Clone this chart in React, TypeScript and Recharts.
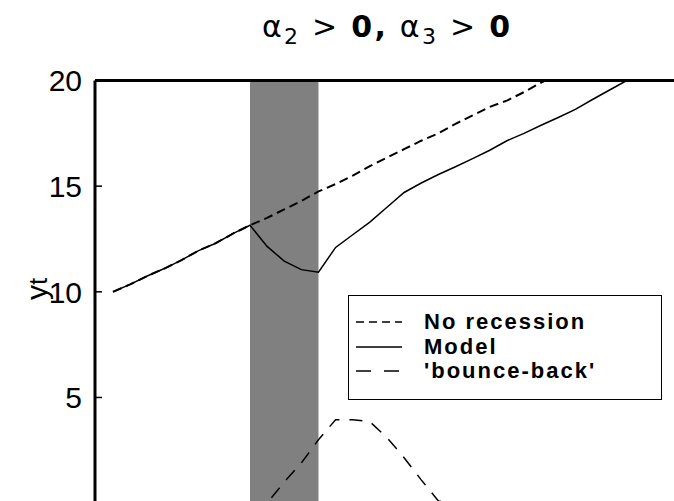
import React from 'react';
import { LineChart, Line, XAxis, YAxis, ReferenceArea, ReferenceLine, Legend, Customized } from 'recharts';

// quarters since start of sample
const quarters = [0, 1, 2, 3, 4, 5, 6, 7, 8, 9, 10, 11, 12, 13, 14, 15, 16, 17, 18, 19, 20, 21, 22, 23, 24, 25, 26, 27, 28, 29, 30, 31];
const noRecession = [10.0, 10.35, 10.75, 11.1, 11.5, 11.95, 12.3, 12.75, 13.15, 13.5, 13.9, 14.3, 14.75, 15.1, 15.5, 15.95, 16.35, 16.75, 17.15, 17.5, 17.95, 18.35, 18.75, 19.05, 19.45, 19.9, 20.3, null, null, null, null, null];
const model = [10.0, 10.35, 10.75, 11.1, 11.5, 11.95, 12.3, 12.75, 13.15, 12.15, 11.45, 11.05, 10.93, 12.1, 12.7, 13.3, 14.0, 14.7, 15.15, 15.55, 15.92, 16.3, 16.7, 17.15, 17.5, 17.88, 18.25, 18.63, 19.1, 19.55, 20.0, 20.4];
const bounceBack = [0, 0, 0, 0, 0, 0, 0, 0, 0, 0, 1.0, 1.9, 3.0, 3.95, 3.95, 3.85, 3.1, 2.15, 1.1, 0.1, 0, 0, 0, 0, 0, 0, 0, 0, 0, 0, 0, 0];
const recession = [8, 12];
const yTicks = [5, 10, 15, 20];
const seriesNames = ['No recession', 'Model', "'bounce-back'"];

const data = quarters.map((t, i) => ({ t, noRec: noRecession[i], model: model[i], bounce: bounceBack[i] }));

const legendDash: Record<string, string | undefined> = {
  'No recession': '8 5',
  Model: undefined,
  "'bounce-back'": '15 13',
};

const YTick = (props: any) => {
  const { x, y, payload } = props;
  return (
    <g>
      <line x1={x} x2={x + 7} y1={y} y2={y} stroke="#000" strokeWidth={1.5} />
      <text x={x - 13} y={y} dy="0.36em" textAnchor="end" fontSize={30} fontFamily="Liberation Sans, Arial, sans-serif" fill="#000">
        {payload.value}
      </text>
    </g>
  );
};

// legend drawn in the original series order
const LegendBox = () => (
  <div style={{ width: 314, height: 105, border: '1.5px solid #000', boxSizing: 'border-box', background: '#fff', paddingTop: 14 }}>
    {seriesNames.map((name) => (
      <div key={name} style={{ display: 'flex', alignItems: 'center', height: 24.5 }}>
        <svg width={70} height={20} style={{ marginLeft: 5 }}>
          <line x1={2} x2={48} y1={10} y2={10} stroke="#000" strokeWidth={1.5} strokeDasharray={legendDash[name]} />
        </svg>
        <span style={{ fontFamily: 'Liberation Sans, Arial, sans-serif', fontWeight: 'bold', fontSize: 22, letterSpacing: 2, color: '#000', lineHeight: '24px' }}>
          {name}
        </span>
      </div>
    ))}
  </div>
);

const Title = () => (
  <text x={386} y={37} textAnchor="middle" fontSize={30} fontFamily="DejaVu Sans, sans-serif" fill="#000" textLength={248} lengthAdjust="spacing">
    α<tspan fontSize={22} dy={7}>2</tspan>
    <tspan dy={-7}> &gt; </tspan>
    <tspan fontWeight="bold">0,</tspan>
    <tspan> α</tspan>
    <tspan fontSize={22} dy={7}>3</tspan>
    <tspan dy={-7}> &gt; </tspan>
    <tspan fontWeight="bold">0</tspan>
  </text>
);

const App = () => {
  return (
    <div style={{ position: 'absolute', left: 0, top: 0, width: 674, height: 501, background: '#fff' }}>
      <LineChart width={674} height={501} data={data} margin={{ top: 80.5, right: 0, bottom: 0, left: 0 }}>
        <ReferenceArea x1={recession[0]} x2={recession[1]} fill="#808080" fillOpacity={1} stroke="none" />
        <XAxis dataKey="t" type="number" domain={[-1.05, 32.76]} allowDataOverflow hide />
        <YAxis
          type="number"
          domain={[0.1, 20]}
          ticks={yTicks}
          allowDataOverflow
          width={95}
          tickSize={0}
          tickMargin={0}
          tick={<YTick />}
          axisLine={{ stroke: '#000', strokeWidth: 3 }}
          tickLine={false}
          label={{
            content: (p: any) => {
              const cx = 36;
              const cy = p.viewBox.y + p.viewBox.height / 2 - 2;
              return (
                <text x={cx} y={cy} textAnchor="middle" dy="0.35em" transform={`rotate(-90, ${cx}, ${cy})`} fontSize={30} fontFamily="Liberation Sans, Arial, sans-serif" fill="#000">
                  y<tspan fontSize={26}>t</tspan>
                </text>
              );
            },
          }}
        />
        <ReferenceLine y={20} stroke="#000" strokeWidth={3} />
        <Line dataKey="noRec" name={seriesNames[0]} stroke="#000" strokeWidth={2} strokeDasharray="9 5" dot={false} isAnimationActive={false} />
        <Line dataKey="model" name={seriesNames[1]} stroke="#000" strokeWidth={1.5} dot={false} isAnimationActive={false} />
        <Line dataKey="bounce" name={seriesNames[2]} stroke="#000" strokeWidth={1.5} strokeDasharray="13 10" dot={false} isAnimationActive={false} />
        <Legend
          layout="vertical"
          align="center"
          verticalAlign="middle"
          content={<LegendBox />}
          wrapperStyle={{ left: 348, top: 295, width: 314, height: 105 }}
        />
        <Customized component={Title} />
      </LineChart>
    </div>
  );
};

export default App;
